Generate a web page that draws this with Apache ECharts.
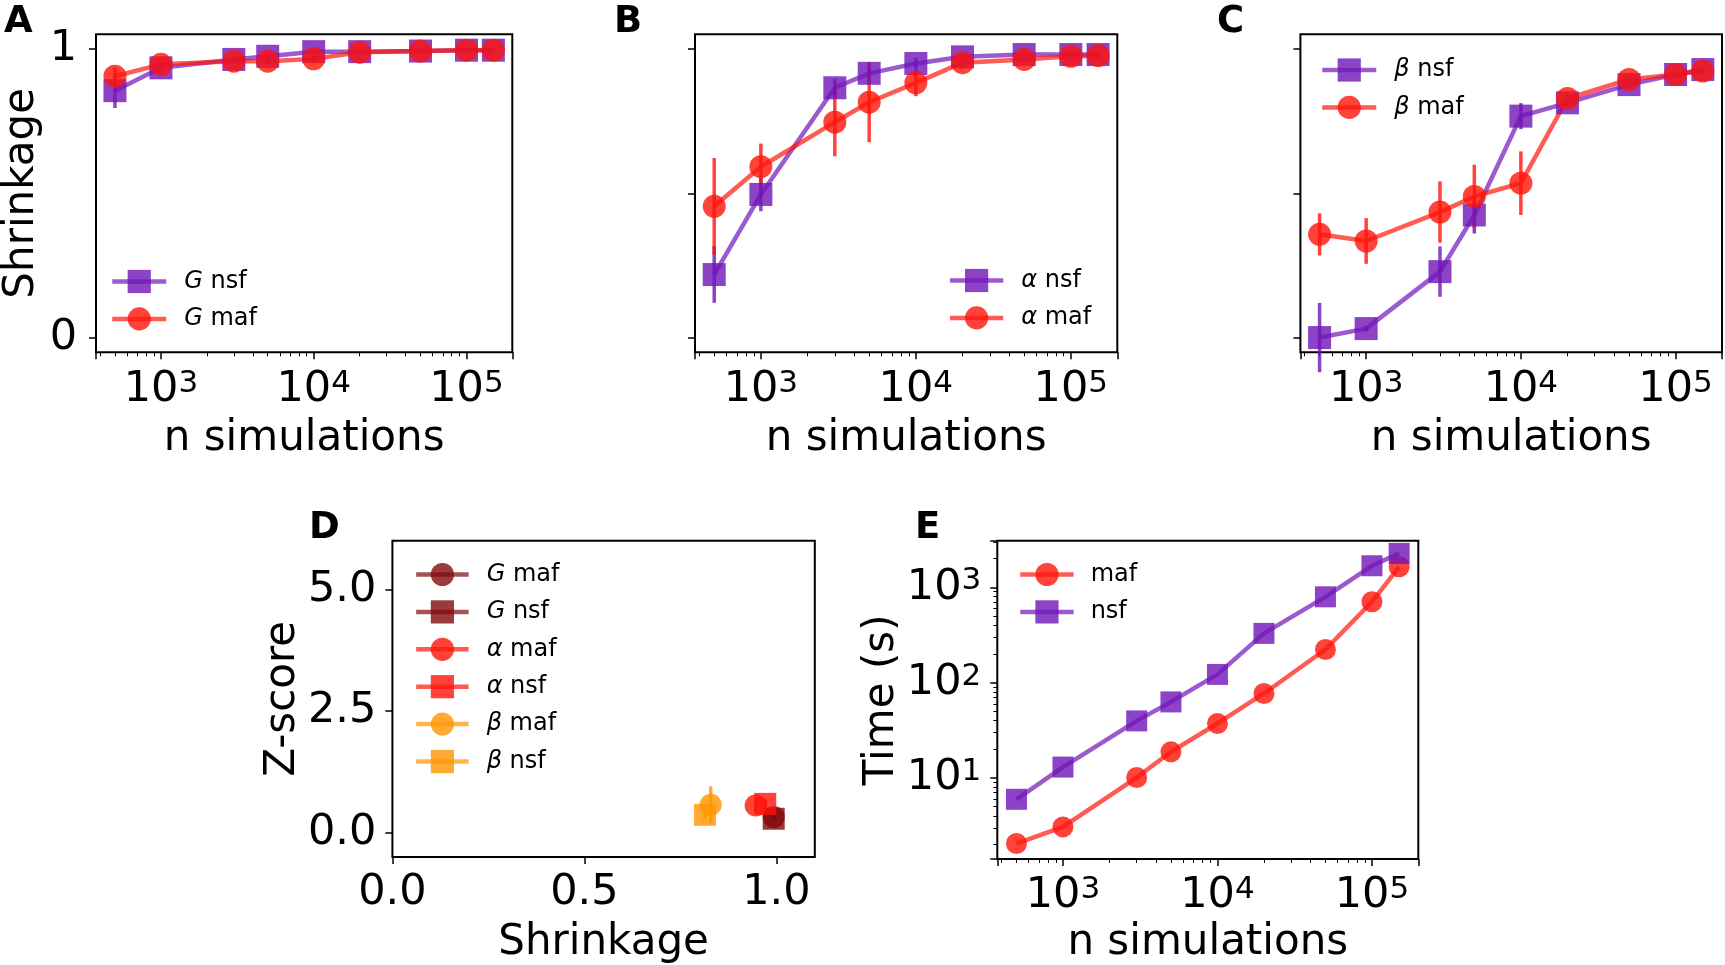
<!DOCTYPE html>
<html><head><meta charset="utf-8">
<script src="https://cdn.jsdelivr.net/npm/echarts@6/dist/echarts.min.js"></script>
<style>html,body{margin:0;padding:0;background:#fff}#c{width:1725px;height:965px}</style>
</head><body><div id="c"></div>
<script>
// ---------- data ----------
const nSims = [500, 1000, 3000, 5000, 10000, 20000, 50000, 100000, 150000];

const G_nsf       = [0.855, 0.934, 0.963, 0.974, 0.990, 0.990, 0.992, 0.995, 0.995];
const G_nsf_err   = [0.060, 0.015, 0.010, 0.010, 0.005, 0.005, 0.003, 0.002, 0.002];
const G_maf       = [0.905, 0.946, 0.957, 0.957, 0.965, 0.988, 0.992, 0.995, 0.995];
const G_maf_err   = [0.030, 0.015, 0.010, 0.010, 0.010, 0.005, 0.003, 0.002, 0.002];

const alpha_nsf     = [0.219, 0.496, 0.865, 0.915, 0.949, 0.972, 0.980, 0.980, 0.980];
const alpha_nsf_err = [0.098, 0.058, 0.030, 0.037, 0.020, 0.010, 0.010, 0.005, 0.005];
const alpha_maf     = [0.455, 0.592, 0.746, 0.815, 0.882, 0.952, 0.963, 0.974, 0.976];
const alpha_maf_err = [0.167, 0.080, 0.118, 0.138, 0.046, 0.020, 0.010, 0.010, 0.010];

const beta_nsf     = [0.001, 0.032, 0.229, 0.425, 0.767, 0.813, 0.876, 0.911, 0.928];
const beta_nsf_err = [0.120, 0.010, 0.087, 0.064, 0.045, 0.010, 0.010, 0.005, 0.005];
const beta_maf     = [0.358, 0.335, 0.435, 0.489, 0.535, 0.828, 0.894, 0.911, 0.923];
const beta_maf_err = [0.073, 0.079, 0.106, 0.110, 0.110, 0.020, 0.010, 0.010, 0.010];

// panel D
const zNames    = ['G maf', 'G nsf', 'α maf', 'α nsf', 'β maf', 'β nsf'];
const zShrink   = [0.993, 0.993, 0.946, 0.971, 0.829, 0.814];
const zScore    = [0.320, 0.286, 0.557, 0.592, 0.572, 0.368];
const zScoreErr = [0.06, 0.06, 0.12, 0.10, 0.38, 0.10];

// panel E
const time_maf = [2.05, 3.06, 10.1, 18.8, 37.3, 77, 223, 706, 1645];
const time_nsf = [5.97, 13.0, 39.7, 62.8, 122, 329, 796, 1686, 2275];

// tick values
const shrinkTicksA  = [0, 1];
const shrinkTicksBC = [0, 0.5, 1];
const zTicksY       = [0, 2.5, 5];
const zTicksX       = [0, 0.5, 1];

// ---------- style ----------
const F = 'DejaVu Sans';
const PURPLE = 'rgb(112,20,184)';
const RED = 'rgb(255,20,10)';
const DARKRED = 'rgb(130,10,10)';
const ORANGE = 'rgb(255,150,0)';
const zColors = [DARKRED, DARKRED, RED, RED, ORANGE, ORANGE];
const zSymbols = ['circle', 'rect', 'circle', 'rect', 'circle', 'rect'];

const gridBoxes = [
  {left: 90, top: 34.3, width: 422.3, height: 318},
  {left: 695, top: 34.3, width: 422.3, height: 318},
  {left: 1300.4, top: 34.3, width: 421.9, height: 318},
  {left: 392.4, top: 540.7, width: 422.4, height: 318.3},
  {left: 997.3, top: 540.7, width: 421, height: 318.3}
];
const grids = gridBoxes.map(g => Object.assign({show: true, borderColor: '#000', borderWidth: 2, backgroundColor: 'transparent', containLabel: false}, g));

const TICK_FS = 43, NAME_FS = 42;
const tickLine = {color: '#000', width: 1.5};
const minorStyle = {show: true, splitNumber: 9, length: 4, lineStyle: {color: '#000', width: 1}};
const supRich = {sup: {fontSize: 31, lineHeight: 37, verticalAlign: 'top', fontFamily: F, color: '#000'}};
const nameStyle = {fontFamily: F, fontSize: NAME_FS, color: '#000', lineHeight: 42};

function logFmt(v) {
  const e = Math.log10(v), r = Math.round(e);
  return Math.abs(e - r) < 1e-6 ? '10{sup|' + r + '}' : '';
}
function xLog(gi, nameGap, margin) {
  return {type: 'log', logBase: 10, gridIndex: gi, min: 375.8, max: 199500,
    axisLine: {show: false, onZero: false},
    axisTick: {show: true, inside: false, length: 7, lineStyle: tickLine},
    minorTick: minorStyle, splitLine: {show: false}, minorSplitLine: {show: false},
    axisLabel: {show: true, margin: margin, formatter: logFmt, color: '#000', fontFamily: F, fontSize: TICK_FS, lineHeight: 43, rich: supRich},
    name: 'n simulations', nameLocation: 'middle', nameGap: nameGap, nameTextStyle: nameStyle};
}
function yShrink(gi, ticks, showLabels) {
  return {type: 'value', gridIndex: gi, min: -0.05, max: 1.05,
    axisLine: {show: false, onZero: false},
    axisTick: {show: true, inside: false, length: 7, lineStyle: tickLine, customValues: ticks},
    splitLine: {show: false},
    axisLabel: {show: showLabels, customValues: ticks, margin: 19, color: '#000', fontFamily: F, fontSize: TICK_FS,
      formatter: v => String(Math.round(v * 100) / 100)},
    name: showLabels ? 'Shrinkage' : '', nameLocation: 'middle', nameGap: 53, nameTextStyle: nameStyle};
}

const xAxes = [
  xLog(0, 66, 16), xLog(1, 66, 16), xLog(2, 66, 16),
  {type: 'value', gridIndex: 3, min: 0, max: 1.1,
    axisLine: {show: false, onZero: false},
    axisTick: {show: true, inside: false, length: 7, lineStyle: tickLine, customValues: zTicksX},
    splitLine: {show: false},
    axisLabel: {customValues: zTicksX, margin: 14, color: '#000', fontFamily: F, fontSize: TICK_FS,
      formatter: v => v.toFixed(1)},
    name: 'Shrinkage', nameLocation: 'middle', nameGap: 65, nameTextStyle: nameStyle},
  xLog(4, 63, 15)
];
const yAxes = [
  yShrink(0, shrinkTicksA, true), yShrink(1, shrinkTicksBC, false), yShrink(2, shrinkTicksBC, false),
  {type: 'value', gridIndex: 3, min: -0.5, max: 6,
    axisLine: {show: false, onZero: false},
    axisTick: {show: true, inside: false, length: 7, lineStyle: tickLine, customValues: zTicksY},
    splitLine: {show: false},
    axisLabel: {customValues: zTicksY, margin: 16, color: '#000', fontFamily: F, fontSize: TICK_FS,
      formatter: v => v.toFixed(1)},
    name: 'Z-score', nameLocation: 'middle', nameGap: 82, nameTextStyle: nameStyle},
  {type: 'log', logBase: 10, gridIndex: 4, min: 1.41, max: 3090,
    axisLine: {show: false, onZero: false},
    axisTick: {show: true, inside: false, length: 7, lineStyle: tickLine},
    minorTick: minorStyle, splitLine: {show: false}, minorSplitLine: {show: false},
    axisLabel: {margin: 16, formatter: logFmt, color: '#000', fontFamily: F, fontSize: TICK_FS, lineHeight: 43, rich: supRich},
    name: 'Time (s)', nameLocation: 'middle', nameGap: 92, nameTextStyle: nameStyle}
];

// ---------- series ----------
function lineSeries(name, gi, xs, ys, symbol, color, size) {
  return {type: 'line', name: name, xAxisIndex: gi, yAxisIndex: gi,
    data: xs.map((x, i) => [x, ys[i]]), symbol: symbol, symbolSize: size, showSymbol: true,
    itemStyle: {color: color, opacity: 0.8}, lineStyle: {color: color, width: 4.5, opacity: 0.7},
    emphasis: {disabled: true}, z: 3, clip: false};
}
function errSeries(gi, xs, ys, es, color) {
  return {type: 'custom', xAxisIndex: gi, yAxisIndex: gi, silent: true, z: 2, clip: false,
    data: xs.map((x, i) => [x, ys[i], es[i]]), encode: {x: 0, y: 1},
    renderItem: function (params, api) {
      const x = api.value(0), y = api.value(1), e = api.value(2);
      const p1 = api.coord([x, y - e]), p2 = api.coord([x, y + e]);
      return {type: 'line', shape: {x1: p1[0], y1: p1[1], x2: p2[0], y2: p2[1]},
        style: {stroke: color, lineWidth: 3.5, opacity: 0.8}};
    }};
}

const MS = 23;
const series = [
  errSeries(0, nSims, G_nsf, G_nsf_err, PURPLE),
  lineSeries('G nsf', 0, nSims, G_nsf, 'rect', PURPLE, MS),
  errSeries(0, nSims, G_maf, G_maf_err, RED),
  lineSeries('G maf', 0, nSims, G_maf, 'circle', RED, MS),

  errSeries(1, nSims, alpha_nsf, alpha_nsf_err, PURPLE),
  lineSeries('α nsf', 1, nSims, alpha_nsf, 'rect', PURPLE, MS),
  errSeries(1, nSims, alpha_maf, alpha_maf_err, RED),
  lineSeries('α maf', 1, nSims, alpha_maf, 'circle', RED, MS),

  errSeries(2, nSims, beta_nsf, beta_nsf_err, PURPLE),
  lineSeries('β nsf', 2, nSims, beta_nsf, 'rect', PURPLE, MS),
  errSeries(2, nSims, beta_maf, beta_maf_err, RED),
  lineSeries('β maf', 2, nSims, beta_maf, 'circle', RED, MS),

  lineSeries('maf', 4, nSims, time_maf, 'circle', RED, 21),
  lineSeries('nsf', 4, nSims, time_nsf, 'rect', PURPLE, 21)
];
zNames.forEach((n, i) => {
  series.push(errSeries(3, [zShrink[i]], [zScore[i]], [zScoreErr[i]], zColors[i]));
  series.push(lineSeries('D:' + n, 3, [zShrink[i]], [zScore[i]], zSymbols[i], zColors[i], 22));
});

// ---------- legends ----------
const legRich = {
  i: {fontStyle: 'italic', fontSize: 24, fontFamily: F, color: '#000', lineHeight: 29, padding: [0, 0, 0, 13]},
  t: {fontSize: 24, fontFamily: F, color: '#000', lineHeight: 29},
  p: {fontSize: 24, fontFamily: F, color: '#000', lineHeight: 29, padding: [0, 0, 0, 12]}
};
function legendFmt(name) {
  const n = name.replace(/^D:/, '');
  const m = n.match(/^(G|α|β) (.*)$/);
  if (m) return '{i|' + m[1] + '}{t| ' + m[2] + '}';
  return '{p|' + n + '}';
}
function legend(data, left, top, itemWidth) {
  return {data: data, left: left, top: top, orient: 'vertical', itemWidth: itemWidth, itemHeight: 29,
    itemGap: 8.4, padding: 0, selectedMode: false, formatter: legendFmt,
    lineStyle: {width: 4.5},
    textStyle: {fontFamily: F, fontSize: 24, color: '#000', lineHeight: 29, rich: legRich}};
}
const legends = [
  legend(['G nsf', 'G maf'], 110, 267, 54),
  legend(['α nsf', 'α maf'], 947.7, 266, 53.3),
  legend(['β nsf', 'β maf'], 1320, 55.5, 54),
  legend(zNames.map(n => 'D:' + n), 413.9, 560, 52.5),
  legend(['maf', 'nsf'], 1018, 560, 53.4)
];

// ---------- panel letters ----------
const letters = [['A', 4, 22.2], ['B', 614, 22.2], ['C', 1217, 22.2], ['D', 309, 528], ['E', 915, 528]];
const graphic = letters.map(l => ({type: 'text', x: l[1], y: l[2],
  style: {text: l[0], font: 'bold 37px "DejaVu Sans"', fill: '#000', verticalAlign: 'middle', align: 'left'}}));

const chart = echarts.init(document.getElementById('c'), null, {renderer: 'canvas'});
chart.setOption({
  animation: false,
  backgroundColor: '#fff',
  grid: grids,
  xAxis: xAxes,
  yAxis: yAxes,
  legend: legends,
  series: series,
  graphic: graphic
});
</script>
</body></html>
